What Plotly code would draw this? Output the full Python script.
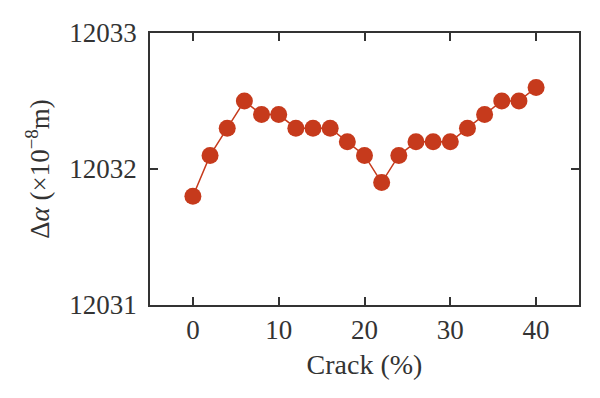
import plotly.graph_objects as go

crack = [0, 2, 4, 6, 8, 10, 12, 14, 16, 18, 20, 22, 24, 26, 28, 30, 32, 34, 36, 38, 40]
delta_alpha = [12031.8, 12032.1, 12032.3, 12032.5, 12032.4, 12032.4, 12032.3, 12032.3, 12032.3,
               12032.2, 12032.1, 12031.9, 12032.1, 12032.2, 12032.2, 12032.2, 12032.3, 12032.4,
               12032.5, 12032.5, 12032.6]
x_ticks = [0, 10, 20, 30, 40]
y_ticks = [12031, 12032, 12033]

color = "#C63A1C"
font = "Liberation Serif, DejaVu Serif, serif"

fig = go.Figure(go.Scatter(
    x=crack, y=delta_alpha, mode="lines+markers",
    line=dict(color=color, width=1.5),
    marker=dict(color=color, size=17),
))

axis_common = dict(
    showgrid=False, zeroline=False, showline=True, linecolor="#333", linewidth=1.5,
    mirror="ticks", ticks="inside", ticklen=8, tickwidth=1.5, tickcolor="#333",
    tickfont=dict(family=font, size=27, color="#333"), automargin=False,
    tickformat="d",
)
fig.update_xaxes(range=[-5, 45], tickvals=x_ticks, ticklabelstandoff=0,
                 title=dict(text="Crack (%)", font=dict(family=font, size=28, color="#333"), standoff=10),
                 **axis_common)
fig.update_yaxes(range=[12031, 12033], tickvals=y_ticks, ticklabelstandoff=6,
                 title=dict(text="Δ<i>α</i> (×10<sup>−8</sup>m)", font=dict(family=font, size=27, color="#333"), standoff=12),
                 **axis_common)
fig.update_layout(
    width=600, height=398, plot_bgcolor="white", paper_bgcolor="white",
    margin=dict(l=142, r=29, t=25, b=101), showlegend=False,
)
fig.write_html("out.html")
